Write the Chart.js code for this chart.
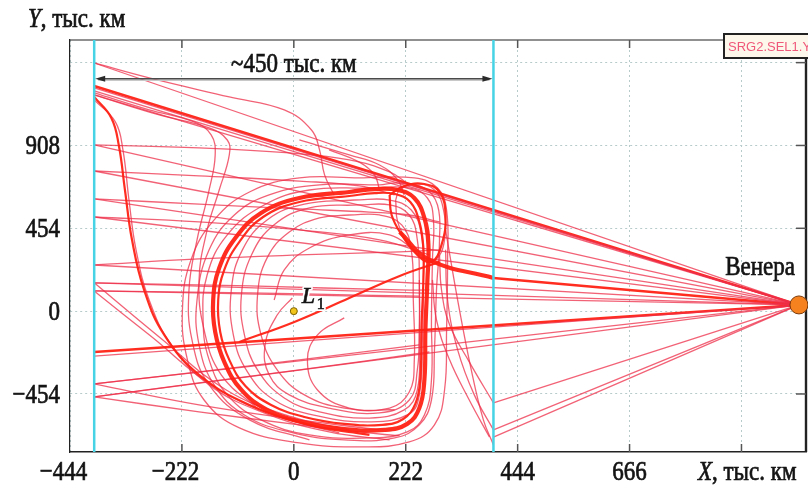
<!DOCTYPE html>
<html>
<head>
<meta charset="utf-8">
<script src="https://cdn.jsdelivr.net/npm/chart.js@4.4.1/dist/chart.umd.min.js"></script>
<style>
  html, body { margin: 0; padding: 0; background: #fff; }
</style>
</head>
<body>
<canvas id="c" width="808" height="490"></canvas>
<script>
// ---- axes ----
const xTicks = [-444, -222, 0, 222, 444, 666, 888];
const xTickLabels = ["−444", "−222", "0", "222", "444", "666", ""];
const yTicks = [-454, 0, 454, 908, 1362];
const yTickLabels = ["−454", "0", "454", "908", ""];

// ---- markers (тыс. км) ----
const venus = [1002, 34];
const l1 = [0, 0];
const boundaryX = [-396, 396];
const spanY = 1273;

// rays to Venus, start Y on the left / right boundary
const leftRayY = [1360, 1223, 1207, 1185, 911, 768, 615, 516, 253, 155, 111, -246, -399, -470];
const leftBoldRayY = [1234, -224];
const rightRayY = [-503, -651, -690];
const rightBoldRayY = [182];

// ---- halo orbits ----
const haloBold = [[110,653],[11,620],[-65,538],[-116,401],[-148,237],[-160,61],[-156,-114],[-138,-278],[-104,-432],[-53,-541],[15,-607],[100,-646],[180,-651],[225,-618],[249,-531],[259,-377],[261,-103],[265,171],[267,363],[259,511],[239,620],[206,664],[160,669],[110,653]];
const haloBold2 = [[110,631],[11,598],[-61,516],[-108,380],[-138,226],[-150,61],[-146,-114],[-128,-267],[-96,-410],[-45,-514],[21,-580],[100,-618],[176,-623],[217,-591],[241,-509],[251,-366],[253,-103],[257,171],[257,347],[249,489],[231,598],[201,642],[160,647],[110,631]];
const haloMid = [[150,675],[31,664],[-59,582],[-132,418],[-172,198],[-180,-48],[-168,-267],[-132,-459],[-65,-596],[31,-678],[150,-695],[225,-662],[259,-569],[273,-377],[273,-48],[275,281],[277,500],[265,620],[229,675],[150,675]];
const haloOuterA = [[170,692],[51,692],[-49,637],[-118,527],[-168,336],[-192,61],[-188,-185],[-158,-404],[-98,-569],[-9,-662],[100,-706],[200,-695],[249,-623],[273,-487],[279,-212],[283,116],[289,391],[285,582],[259,675],[210,702],[170,692]];
const haloOuterB = [[130,730],[11,730],[-88,653],[-158,500],[-204,281],[-221,7],[-211,-267],[-178,-487],[-108,-640],[11,-722],[130,-744],[229,-717],[279,-623],[299,-432],[303,-103],[305,281],[303,554],[285,675],[239,730],[130,730]];
const haloInnerC = [[130,582],[31,566],[-39,473],[-84,308],[-104,88],[-98,-130],[-72,-322],[-19,-476],[51,-552],[150,-586],[219,-541],[245,-432],[249,-158],[249,171],[245,391],[229,527],[190,582],[130,582]];
const haloInnerD = [[110,527],[51,511],[-9,434],[-53,292],[-72,88],[-65,-130],[-33,-322],[21,-459],[100,-531],[190,-531],[229,-443],[239,-267],[237,61],[233,336],[214,473],[170,527],[110,527]];
const haloInnerG = [[120,609],[21,587],[-53,500],[-102,336],[-124,116],[-120,-130],[-92,-333],[-39,-487],[47,-574],[154,-607],[229,-563],[249,-459],[255,-158],[257,171],[253,418],[233,554],[190,609],[120,609]];
const l1Spiral = [[-3,72],[-33,-21],[-57,-185],[-49,-349],[-9,-459],[70,-531],[170,-558],[229,-487],[245,-322],[249,-103],[249,171]];
const innerArcE = [[-39,61],[-19,226],[31,346],[110,418],[190,418],[239,336]];
const innerArcF = [[100,-37],[47,-130],[27,-267],[47,-432],[110,-531],[200,-541]];
const lobeA = [[190,637],[194,527],[214,418],[245,308],[273,270],[293,363],[301,527],[289,653],[259,697],[219,686],[190,637]];
const lobeB = [[202,609],[206,489],[225,380],[253,292],[281,281],[299,391],[297,554],[279,664],[245,697],[210,664],[202,609]];
const exitBold = [[210,434],[269,281],[396,182]];
const l1Track = [[-108,-169],[1,-59],[110,72],[210,193],[289,270]];

// ---- transfer arcs from the left boundary ----
const inC1 = [[-396,911],[-188,895],[-9,867],[110,829],[190,763],[229,692]];
const inC2 = [[-396,768],[-188,741],[11,713],[130,686],[200,637]];
const inC3 = [[-396,615],[-188,587],[11,560],[150,543],[229,527],[289,489]];
const inC4 = [[-396,516],[-188,489],[11,445],[170,391],[269,308]];
const inC5 = [[-396,253],[-188,286],[11,308],[210,325],[289,336]];
const inC6 = [[-396,155],[-88,138],[210,116],[269,116]];
const inC7 = [[-396,111],[-88,100],[130,88],[249,82]];
const inC9 = [[-396,-399],[-188,-333],[11,-267],[249,-185]];
const inC10 = [[-396,-470],[-188,-393],[11,-322],[269,-224]];
const inC11 = [[-396,-470],[-188,-552],[11,-623],[130,-662],[210,-684]];
const inC12 = [[-396,-399],[-188,-514],[11,-596],[170,-651]];
const inC13 = [[-396,155],[-267,-142],[-134,-432],[-3,-580],[110,-651]];
const inC14 = [[-396,111],[-287,-130],[-148,-432],[-9,-596],[90,-667]];

const dropD1 = [[-396,1174],[-362,1059],[-347,906],[-335,664],[-321,391],[-297,116],[-257,-130],[-188,-349],[-88,-514],[31,-623],[150,-678]];
const dropD2 = [[-396,1158],[-354,1037],[-339,884],[-327,609],[-313,336],[-287,61],[-243,-185],[-168,-404],[-59,-558],[70,-662],[190,-706]];
const dropD3 = [[-396,1196],[-287,1103],[-198,1037],[-164,966],[-156,856],[-168,664],[-192,391],[-208,116],[-202,-158],[-168,-404],[-88,-596],[31,-706]];
const dropD4 = [[-396,1185],[-267,1075],[-168,1004],[-132,938],[-128,856],[-148,664],[-172,445],[-188,171],[-178,-103],[-144,-349],[-69,-541]];
const topArc = [[-396,1360],[-287,1278],[-128,1174],[-19,1103],[35,993],[51,884],[61,747],[80,637]];
const topHookA = [[11,938],[110,856],[170,801],[206,719],[219,637]];
const topHookB = [[70,884],[130,817],[160,747],[170,664]];

// ---- arcs from the right boundary ----
const riseR1 = [[396,-503],[348,-278],[309,-75],[293,116],[289,308]];
const riseR2 = [[388,-690],[348,-487],[309,-267],[283,-48],[275,171]];
const riseR3 = [[396,-651],[358,-459],[325,-212],[305,61],[301,336]];
const fallR4 = [[301,445],[325,61],[352,-322],[376,-596],[396,-733]];

const boldTracks = [haloBold, exitBold];
const mediumTracks = [haloBold2, lobeA, dropD1, l1Track];
const thinTracks = [haloMid, haloOuterA, haloOuterB, haloInnerC, haloInnerD, haloInnerG, l1Spiral, innerArcE, innerArcF, lobeB,
  inC1, inC2, inC3, inC4, inC5, inC6, inC7, inC9, inC10, inC11, inC12, inC13, inC14,
  dropD2, dropD3, dropD4, topArc, topHookA, topHookB, riseR1, riseR2, riseR3, fallR4];

const RED_THIN = "rgba(238,45,72,0.75)";
const RED_BOLD = "rgba(255,34,20,0.95)";
const pts = arr => arr.map(([x, y]) => ({ x, y }));

const datasets = [];
datasets.push({ data: pts([venus]), pointRadius: 9, pointBackgroundColor: "#f5821f", pointBorderColor: "#7a3a0a", pointBorderWidth: 1, order: 0, clip: false });
datasets.push({ data: pts([l1]), pointRadius: 3.5, pointBackgroundColor: "#f2c51c", pointBorderColor: "#7a6000", pointBorderWidth: 1, order: 0 });
boundaryX.forEach(bx => {
  datasets.push({ data: [{ x: bx, y: -772 }, { x: bx, y: 1486 }], showLine: true, pointRadius: 0, borderColor: "#46d3e5", borderWidth: 2.5, order: 1 });
});
const ray = (sx, sy, w, c) => ({ data: pts([[sx, sy], venus]), showLine: true, pointRadius: 0, borderColor: c, borderWidth: w, order: 3 });
leftRayY.forEach(v => datasets.push(ray(boundaryX[0], v, 1.3, RED_THIN)));
rightRayY.forEach(v => datasets.push(ray(boundaryX[1], v, 1.3, RED_THIN)));
leftBoldRayY.forEach(v => datasets.push(ray(boundaryX[0], v, 2.4, RED_BOLD)));
rightBoldRayY.forEach(v => datasets.push(ray(boundaryX[1], v, 2.6, RED_BOLD)));
const track = (arr, w, c, o) => ({ data: pts(arr), showLine: true, pointRadius: 0, borderColor: c, borderWidth: w, tension: 0.42, order: o });
thinTracks.forEach(t => datasets.push(track(t, 1.3, RED_THIN, 4)));
mediumTracks.forEach(t => datasets.push(track(t, 2.2, RED_BOLD, 2)));
boldTracks.forEach(t => datasets.push(track(t, 4.2, RED_BOLD, 2)));

// ---- text helpers ----
const SERIF = "'Liberation Serif', 'DejaVu Serif', serif";
const TICK_FONT = "23px " + SERIF;
const SY = 1.2;
function txt(ctx, s, x, y, font, align, color, sy, heavy) {
  ctx.save();
  ctx.font = font;
  ctx.fillStyle = color || "#141414";
  ctx.textAlign = align || "left";
  ctx.textBaseline = "alphabetic";
  ctx.translate(x, y);
  ctx.scale(1, sy || 1);
  ctx.fillText(s, 0, 0);
  if (heavy) {
    ctx.lineWidth = heavy;
    ctx.strokeStyle = ctx.fillStyle;
    ctx.strokeText(s, 0, 0);
  }
  ctx.restore();
}
function width(ctx, s, font) { ctx.font = font; return ctx.measureText(s).width; }

// frame: top/right border and inner tick marks
const frame = {
  id: "frame",
  beforeDatasetsDraw(chart) {
    const { ctx, chartArea: a, scales: { x, y } } = chart;
    ctx.save();
    ctx.strokeStyle = "#222";
    ctx.lineWidth = 1.2;
    ctx.beginPath(); ctx.moveTo(a.left, a.top); ctx.lineTo(a.right, a.top); ctx.stroke();
    ctx.lineWidth = 2.4;
    ctx.beginPath(); ctx.moveTo(a.right, a.top); ctx.lineTo(a.right, a.bottom); ctx.stroke();
    ctx.strokeStyle = "#555";
    ctx.lineWidth = 1.5;
    xTicks.forEach(v => {
      if (v <= x.min) return;
      const px = x.getPixelForValue(v);
      ctx.beginPath(); ctx.moveTo(px, a.top); ctx.lineTo(px, a.top + 8); ctx.stroke();
      ctx.beginPath(); ctx.moveTo(px, a.bottom); ctx.lineTo(px, a.bottom - 8); ctx.stroke();
    });
    yTicks.forEach(v => {
      const py = y.getPixelForValue(v);
      ctx.beginPath(); ctx.moveTo(a.right, py); ctx.lineTo(a.right - 10, py); ctx.stroke();
    });
    ctx.restore();
  }
};

// labels, arrow, annotation box
const labels = {
  id: "labels",
  afterDraw(chart) {
    const { ctx, chartArea: a, scales: { x, y } } = chart;
    const H = 0.6;
    xTicks.forEach((v, i) => {
      const lab = xTickLabels[i];
      if (!lab) return;
      const px = x.getPixelForValue(v);
      const digits = lab.replace("−", "");
      const w = width(ctx, digits, TICK_FONT);
      txt(ctx, digits, px, a.bottom + 28, TICK_FONT, "center", null, SY, H);
      if (lab[0] === "−") txt(ctx, "−", px - w / 2, a.bottom + 28, TICK_FONT, "right", null, SY, H);
    });
    yTicks.forEach((v, i) => {
      const lab = yTickLabels[i];
      if (!lab) return;
      txt(ctx, lab, a.left - 10, y.getPixelForValue(v) + 9, TICK_FONT, "right", null, SY, H);
    });

    // axis titles
    const it = "italic 23px " + SERIF;
    txt(ctx, "Y", 28, 27, it, "left", null, SY, H);
    txt(ctx, ", тыс. км", 28 + width(ctx, "Y", it), 27, TICK_FONT, "left", null, SY, H);
    txt(ctx, "X", 698, a.bottom + 28, it, "left", null, SY, H);
    txt(ctx, ", тыс. км", 698 + width(ctx, "X", it), a.bottom + 28, TICK_FONT, "left", null, SY, H);

    // span arrow
    const x0 = x.getPixelForValue(boundaryX[0]), x1 = x.getPixelForValue(boundaryX[1]);
    const ay = y.getPixelForValue(spanY);
    ctx.save();
    ctx.strokeStyle = "#c8c8c8"; ctx.lineWidth = 1.5;
    ctx.beginPath(); ctx.moveTo(x0 + 4, ay + 1.5); ctx.lineTo(x1 - 4, ay + 1.5); ctx.stroke();
    ctx.strokeStyle = "#4a4a4a"; ctx.lineWidth = 1.5;
    ctx.beginPath(); ctx.moveTo(x0 + 4, ay); ctx.lineTo(x1 - 4, ay); ctx.stroke();
    ctx.fillStyle = "#2a2a2a";
    ctx.beginPath(); ctx.moveTo(x0 + 1, ay); ctx.lineTo(x0 + 11, ay - 3); ctx.lineTo(x0 + 11, ay + 3); ctx.closePath(); ctx.fill();
    ctx.beginPath(); ctx.moveTo(x1 - 1, ay); ctx.lineTo(x1 - 11, ay - 3); ctx.lineTo(x1 - 11, ay + 3); ctx.closePath(); ctx.fill();
    ctx.restore();
    txt(ctx, "~450 тыс. км", (x0 + x1) / 2, ay - 7, TICK_FONT, "center", null, SY, H);

    // Venus and L1 labels
    const vx = x.getPixelForValue(venus[0]), vy = y.getPixelForValue(venus[1]);
    txt(ctx, "Венера", vx - 4, vy - 30, TICK_FONT, "right", null, SY, H);
    const lx = x.getPixelForValue(l1[0]) + 8, ly = y.getPixelForValue(l1[1]) - 8;
    ctx.save();
    ctx.font = "italic 24px " + SERIF;
    ctx.lineWidth = 4; ctx.strokeStyle = "#fff"; ctx.lineJoin = "round";
    ctx.strokeText("L", lx, ly);
    ctx.font = "16px " + SERIF;
    ctx.strokeText("1", lx + 15, ly + 6);
    ctx.restore();
    txt(ctx, "L", lx, ly, "italic 24px " + SERIF, "left", null, 1, H);
    txt(ctx, "1", lx + 15, ly + 6, "16px " + SERIF, "left", null, 1, H);

    // series tag box
    ctx.save();
    ctx.fillStyle = "#fcf7ea";
    ctx.fillRect(723, 33, 90, 26);
    ctx.strokeStyle = "#222"; ctx.lineWidth = 2;
    ctx.strokeRect(724, 34, 90, 24);
    ctx.restore();
    txt(ctx, "SRG2.SEL1.Y", 728, 51, "13px 'Liberation Sans', Arial, sans-serif", "left", "#f0587a");
  }
};

new Chart(document.getElementById("c"), {
  type: "scatter",
  data: { datasets },
  options: {
    responsive: false,
    animation: false,
    events: [],
    layout: { autoPadding: false, padding: { top: 40, right: 2, left: 0, bottom: 0 } },
    plugins: { legend: { display: false }, tooltip: { enabled: false } },
    scales: {
      x: {
        type: "linear", min: -444, max: 1016,
        afterBuildTicks: s => { s.ticks = xTicks.map(v => ({ value: v })); },
        afterFit: s => { s.height = 38; },
        ticks: { display: false },
        grid: { color: "#b7cbcb", lineWidth: 1, drawTicks: false },
        border: { display: true, color: "#222", width: 1.5, dash: [2, 3] }
      },
      y: {
        type: "linear", min: -772, max: 1486,
        afterBuildTicks: s => { s.ticks = yTicks.map(v => ({ value: v })); },
        afterFit: s => { s.width = 70; },
        ticks: { display: false },
        grid: { color: "#b7cbcb", lineWidth: 1, drawTicks: false },
        border: { display: true, color: "#222", width: 1.2, dash: [2, 3] }
      }
    }
  },
  plugins: [frame, labels]
});
</script>
</body>
</html>
